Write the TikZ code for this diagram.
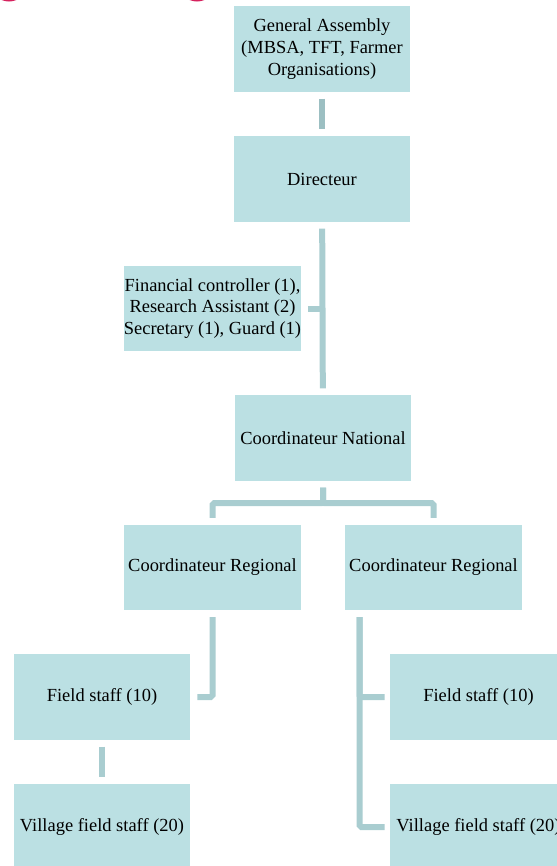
\documentclass[tikz,border=0pt]{standalone}
\usepackage{fontspec}
\setmainfont{Liberation Serif}
\usetikzlibrary{calc}

\definecolor{boxfill}{HTML}{BBE0E3}
\definecolor{linkcol}{HTML}{A9CDD0}
\definecolor{linkdark}{HTML}{9CBFC2}
\definecolor{arcpink}{HTML}{D6225E}

\begin{document}
\begin{tikzpicture}[x=0.02cm, y=-0.02cm,
  post/.style={rectangle, fill=boxfill, minimum width=3.54cm, minimum height=1.71cm,
    inner sep=0pt, align=center, font=\fontsize{10.5}{12.4}\selectfont},
  link/.style={draw=linkcol, line width=0.12cm, rounded corners=1pt,
    shorten <=0.13cm, shorten >=0.13cm}]
\useasboundingbox (0,0) rectangle (557,866);
\clip (0,0) rectangle (557,866);

% bits of the page heading
\draw [arcpink, line width=0.06cm] (9,-17) circle [radius=17];
\draw [arcpink, line width=0.06cm] (197,-17) circle [radius=17];

% boxes
\node [post] (ga) at (322,49) {General Assembly\\(MBSA, TFT, Farmer\\Organisations)};
\node [post] (dir) at (322,179) {Directeur};
\node [post] (fin) at (212.5,308.5) {Financial controller (1),\\Research Assistant (2)\\Secretary (1), Guard (1)};
\node [post] (cn) at (323,438) {Coordinateur National};
\node [post] (crl) at (212.5,567.5) {Coordinateur Regional};
\node [post] (crr) at (433.5,567.5) {Coordinateur Regional};
\node [post] (fsl) at (102,697) {Field staff (10)};
\node [post] (vsl) at (102,827) {Village field staff (20)};
\node [post] (fsr) at (478.5,697) {Field staff (10)};
\node [post] (vsr) at (478.5,827) {Village field staff (20)};

% links
\draw [link, draw=linkdark] (ga) -- (dir);
\draw [link] (dir) -- (cn);
\draw [link, shorten >=0pt] (fin.east) -- (fin.east -| dir.south);
\draw [link] (cn.south) -- ++(0,22) -| (crl.north);
\draw [link] (cn.south) -- ++(0,22) -| (crr.north);
\draw [link] (crl.south) |- (fsl.east);
\draw [link] (fsl) -- (vsl);
\draw [link, shorten >=0.1cm] ($(crr.south west)+(15,0)$) |- (fsr.west);
\draw [link, shorten >=0.1cm] ($(crr.south west)+(15,0)$) |- (vsr.west);
\end{tikzpicture}
\end{document}
